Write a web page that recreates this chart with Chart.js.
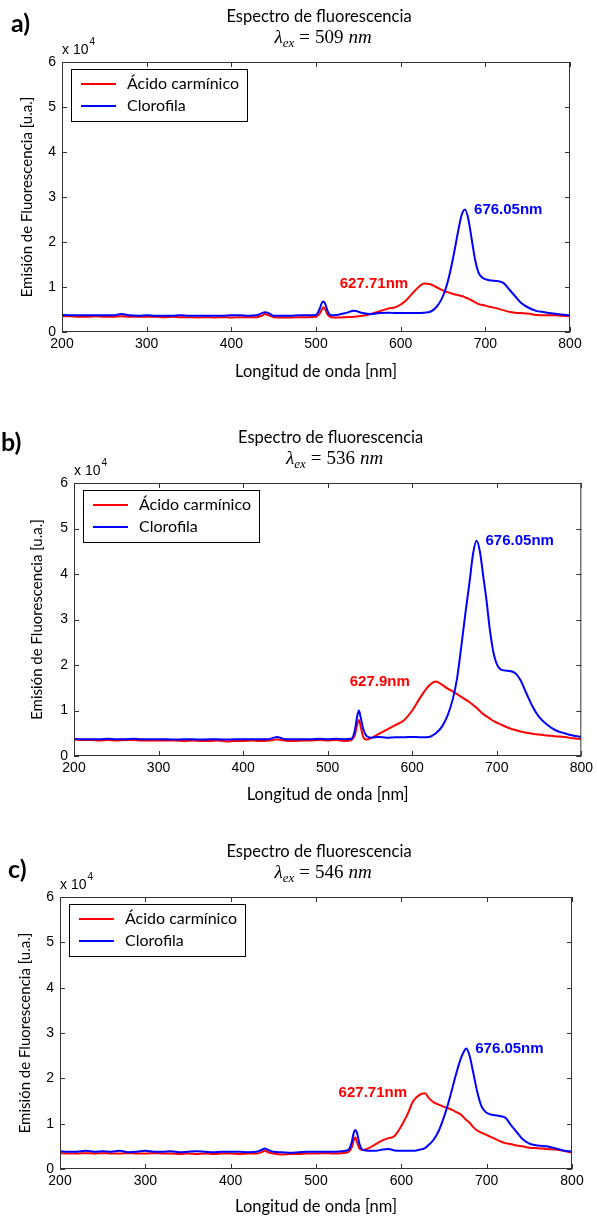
<!DOCTYPE html>
<html>
<head>
<meta charset="utf-8">
<script src="https://cdn.jsdelivr.net/npm/chart.js@4.4.1/dist/chart.umd.min.js"></script>
<style>
  html, body { margin: 0; padding: 0; background: #fff; }
  body { width: 597px; height: 1220px; position: relative; overflow: hidden; }
  .panel { position: absolute; left: 0; width: 597px; }
  .panel canvas { display: block; }
</style>
</head>
<body>
<div class="panel" style="top:0px;height:395px"><canvas id="chartA" width="597" height="395"></canvas></div>
<div class="panel" style="top:405px;height:410px"><canvas id="chartB" width="597" height="410"></canvas></div>
<div class="panel" style="top:830px;height:390px"><canvas id="chartC" width="597" height="390"></canvas></div>
<script>
// emission values are in units of 10^4 u.a.
const nombres = ['Ácido carmínico', 'Clorofila'];
const excitacion = [509, 536, 546];
const letras = ['a)', 'b)', 'c)'];
const xTicks = [200, 300, 400, 500, 600, 700, 800];
const yTicks = [0, 1, 2, 3, 4, 5, 6];
const picoCarmin = [627.71, 627.9, 627.71];
const picoClorofila = [676.05, 676.05, 676.05];

// a) excitation 509 nm
const waveA = [200,210,220,230,240,250,260,270,280,290,
  300,310,320,330,340,350,360,370,380,390,
  400,410,420,430,436,440,444,450,460,470,
  480,490,500,504,507,509,511,514,518,525,
  535,545,555,565,575,585,595,605,612,620,
  627.71,635,642,648,653,658,663,668,672,676.05,
  680,684,688,692,697,705,715,722,728,735,
  742,750,760,770,780,790,800];
const carminA = [.35,.35,.34,.34,.35,.34,.34,.35,.34,.34,
  .34,.34,.33,.34,.33,.33,.32,.33,.32,.33,
  .32,.33,.33,.33,.36,.40,.37,.33,.32,.32,
  .33,.33,.34,.40,.50,.55,.50,.38,.33,.32,
  .33,.34,.36,.40,.46,.52,.56,.68,.82,.98,
  1.08,1.06,1.00,.94,.90,.87,.84,.82,.80,.77,
  .74,.70,.66,.62,.60,.56,.52,.48,.45,.43,
  .42,.41,.38,.37,.37,.36,.35];
const clorofilaA = [.38,.37,.37,.37,.37,.37,.37,.40,.37,.36,
  .37,.36,.36,.36,.37,.36,.36,.36,.36,.36,
  .37,.37,.36,.37,.42,.44,.42,.36,.36,.36,
  .37,.37,.38,.50,.65,.68,.62,.45,.37,.38,
  .42,.47,.42,.40,.42,.43,.42,.42,.42,.42,
  .43,.45,.55,.72,.95,1.30,1.75,2.25,2.60,2.72,
  2.50,2.05,1.60,1.32,1.20,1.15,1.13,1.08,.95,.80,
  .65,.55,.47,.44,.41,.39,.37];

// b) excitation 536 nm
const waveB = [200,210,220,230,240,250,260,270,280,290,
  300,310,320,330,340,350,360,370,380,390,
  400,410,420,430,436,440,444,450,460,470,
  480,490,500,510,520,528,532,535,537,539,
  542,546,552,560,570,580,590,600,610,620,
  627.9,635,642,648,653,658,663,668,672,676.05,
  680,684,688,692,697,705,715,722,728,735,
  742,750,760,770,780,790,800];
const carminB = [.36,.35,.35,.34,.35,.34,.35,.35,.34,.34,
  .34,.34,.34,.33,.34,.33,.33,.34,.32,.33,
  .33,.34,.33,.34,.35,.37,.35,.34,.33,.34,
  .34,.35,.34,.35,.33,.35,.45,.70,.79,.65,
  .42,.36,.40,.48,.58,.68,.78,1.00,1.30,1.55,
  1.64,1.57,1.48,1.42,1.36,1.30,1.24,1.18,1.12,1.06,
  .99,.92,.87,.82,.76,.69,.61,.57,.54,.51,
  .49,.47,.45,.43,.42,.39,.37];
const clorofilaB = [.38,.37,.37,.37,.38,.37,.37,.38,.37,.37,
  .37,.37,.36,.37,.37,.36,.37,.37,.36,.37,
  .37,.37,.37,.37,.40,.42,.40,.37,.37,.37,
  .37,.38,.37,.38,.37,.38,.55,.88,1.00,.85,
  .60,.44,.40,.42,.40,.41,.41,.42,.41,.42,
  .50,.64,.90,1.25,1.70,2.40,3.15,3.85,4.45,4.73,
  4.50,3.95,3.40,2.75,2.20,1.90,1.87,1.82,1.67,1.38,
  1.10,.86,.68,.56,.50,.45,.42];

// c) excitation 546 nm
const waveC = [200,210,220,230,240,250,260,270,280,290,
  300,310,320,330,340,350,360,370,380,390,
  400,410,420,430,436,440,444,450,460,470,
  480,490,500,510,520,530,538,542,544,546,
  548,551,555,562,570,578,585,592,600,607,
  614,620,627.71,632,638,644,650,655,660,665,
  670,673,676.05,680,684,689,694,700,708,715,
  722,728,735,742,750,760,770,780,790,800];
const carminC = [.35,.34,.34,.35,.34,.35,.34,.34,.35,.34,
  .34,.35,.34,.34,.33,.34,.33,.34,.33,.34,
  .34,.33,.34,.34,.37,.40,.37,.34,.32,.33,
  .33,.34,.34,.35,.34,.35,.38,.48,.62,.70,
  .60,.45,.42,.46,.55,.63,.68,.73,.95,1.20,
  1.50,1.62,1.67,1.57,1.47,1.42,1.37,1.34,1.30,1.25,
  1.20,1.14,1.08,1.02,.93,.85,.80,.75,.68,.62,
  .57,.55,.52,.50,.47,.46,.44,.43,.40,.36];
const clorofilaC = [.39,.38,.38,.40,.38,.39,.38,.40,.37,.38,
  .40,.38,.38,.39,.37,.38,.39,.38,.37,.38,
  .38,.38,.37,.38,.42,.45,.42,.38,.37,.36,
  .37,.38,.38,.38,.38,.39,.42,.60,.78,.86,
  .80,.55,.42,.40,.40,.43,.44,.41,.40,.40,
  .40,.42,.46,.53,.65,.85,1.15,1.45,1.80,2.15,
  2.45,2.58,2.66,2.50,2.15,1.70,1.38,1.24,1.19,1.17,
  1.13,.98,.82,.66,.56,.52,.50,.46,.41,.38];

const ROJO = '#ff0000';
const AZUL = '#0000ff';
const SANS = '"Liberation Sans", Arial, sans-serif';
const HUMAN = 'Lato, "Open Sans", sans-serif';
const SERIF = '"Liberation Serif", "DejaVu Serif", serif';

Chart.defaults.font.family = SANS;
Chart.defaults.color = '#000';

const toPoints = (xs, ys) => xs.map((x, i) => ({ x: x, y: ys[i] }));
const peakValue = (xs, ys, x) => ys[xs.indexOf(x)];

// draws the subscripted lambda line, centred on cx
function drawLambda(ctx, cx, baseY, ex) {
  const parts = [
    { t: 'λ', f: 'italic 19px ' + SERIF, dy: 0, gap: 0 },
    { t: 'ex', f: 'italic 13px ' + SERIF, dy: 4, gap: 5 },
    { t: '=', f: '19px ' + SERIF, dy: 0, gap: 5 },
    { t: String(ex), f: '19px ' + SERIF, dy: 0, gap: 5 },
    { t: 'nm', f: 'italic 19px ' + SERIF, dy: 0, gap: 0 },
  ];
  let total = 0;
  parts.forEach(p => { ctx.font = p.f; p.w = ctx.measureText(p.t).width; total += p.w + p.gap; });
  let x = cx - total / 2;
  ctx.textAlign = 'left';
  ctx.textBaseline = 'alphabetic';
  parts.forEach(p => { ctx.font = p.f; ctx.fillText(p.t, x, baseY + p.dy); x += p.w + p.gap; });
}

const decor = {
  id: 'decor',
  afterDatasetsDraw(chart, args, o) {
    const ctx = chart.ctx;
    const { left, right, top, bottom } = chart.chartArea;
    const xs = chart.scales.x, ys = chart.scales.y;
    ctx.save();

    // axes box with inward ticks on all four sides
    ctx.strokeStyle = '#333';
    ctx.lineWidth = 1;
    ctx.strokeRect(left + 0.5, top + 0.5, right - left - 1, bottom - top - 1);
    ctx.beginPath();
    xTicks.forEach(v => {
      const px = Math.round(xs.getPixelForValue(v)) + 0.5;
      ctx.moveTo(px, bottom); ctx.lineTo(px, bottom - 5);
      ctx.moveTo(px, top); ctx.lineTo(px, top + 5);
    });
    yTicks.forEach(v => {
      const py = Math.round(ys.getPixelForValue(v)) + 0.5;
      ctx.moveTo(left, py); ctx.lineTo(left + 5, py);
      ctx.moveTo(right, py); ctx.lineTo(right - 5, py);
    });
    ctx.stroke();

    // legend box
    const lx = left + 9, ly = top + 7;
    ctx.fillStyle = '#fff';
    ctx.fillRect(lx, ly, 176, 52);
    ctx.strokeStyle = '#000';
    ctx.strokeRect(lx + 0.5, ly + 0.5, 176, 52);
    chart.data.datasets.forEach((ds, i) => {
      const ry = ly + 15 + i * 22;
      ctx.strokeStyle = ds.borderColor;
      ctx.lineWidth = 2;
      ctx.beginPath(); ctx.moveTo(lx + 10, ry); ctx.lineTo(lx + 45, ry); ctx.stroke();
      ctx.fillStyle = '#000';
      ctx.font = '16px ' + HUMAN;
      ctx.textAlign = 'left';
      ctx.textBaseline = 'middle';
      ctx.fillText(ds.label, lx + 56, ry);
    });

    // peak labels
    ctx.font = 'bold 15px ' + SANS;
    ctx.textBaseline = 'middle';
    o.picos.forEach(p => {
      const px = xs.getPixelForValue(p.x), py = ys.getPixelForValue(p.y);
      ctx.fillStyle = p.color;
      ctx.textAlign = p.side === 'right' ? 'left' : 'right';
      ctx.fillText(p.x + 'nm', px + p.dx, py + p.dy);
    });

    // titles
    const cx = (left + right) / 2 + 3;
    ctx.fillStyle = '#000';
    ctx.font = '16.5px ' + HUMAN;
    ctx.textAlign = 'center';
    ctx.textBaseline = 'middle';
    ctx.fillText('Espectro de fluorescencia', cx, top - 45);
    drawLambda(ctx, cx + 4, top - 19, o.ex);

    // exponent note above the y axis
    ctx.textAlign = 'left';
    ctx.textBaseline = 'middle';
    ctx.font = '14px ' + SANS;
    ctx.fillText('x 10', left, top - 12);
    const w = ctx.measureText('x 10').width;
    ctx.font = '10px ' + SANS;
    ctx.fillText('4', left + w + 1, top - 20);

    // panel letter
    ctx.font = 'bold 25px ' + HUMAN;
    ctx.textBaseline = 'alphabetic';
    ctx.fillText(o.letra, o.letraX, o.letraY);
    ctx.restore();
  }
};

function makeChart(id, k, wave, carmin, clorofila, box) {
  const H = document.getElementById(id).height;
  return new Chart(document.getElementById(id), {
    type: 'line',
    data: {
      datasets: [
        { label: nombres[0], data: toPoints(wave, carmin), borderColor: ROJO, borderWidth: 2,
          pointRadius: 0, cubicInterpolationMode: 'monotone', order: 1 },
        { label: nombres[1], data: toPoints(wave, clorofila), borderColor: AZUL, borderWidth: 2,
          pointRadius: 0, cubicInterpolationMode: 'monotone', order: 0 },
      ]
    },
    options: {
      responsive: false,
      animation: false,
      events: [],
      layout: { padding: { top: box.top, right: 597 - box.right, left: 0, bottom: 0 } },
      scales: {
        x: {
          type: 'linear', min: 200, max: 800,
          afterBuildTicks: s => { s.ticks = xTicks.map(v => ({ value: v })); },
          afterFit: s => { s.height = H - box.bottom; },
          grid: { display: false, drawTicks: false },
          border: { display: false },
          ticks: { font: { size: 14 }, color: '#000', padding: 4, maxRotation: 0 },
          title: { display: true, text: 'Longitud de onda [nm]', color: '#000',
                   font: { family: HUMAN, size: 16.5 }, padding: { top: 0, bottom: box.xTitle } }
        },
        y: {
          min: 0, max: 6,
          afterBuildTicks: s => { s.ticks = yTicks.map(v => ({ value: v })); },
          afterFit: s => { s.width = box.left; },
          grid: { display: false, drawTicks: false },
          border: { display: false },
          ticks: { font: { size: 14 }, color: '#000', padding: 6 },
          title: { display: true, text: 'Emisión de Fluorescencia [u.a.]', color: '#000',
                   font: { family: HUMAN, size: 15 }, padding: { top: box.yTitle, bottom: 0 } }
        }
      },
      plugins: {
        legend: { display: false },
        tooltip: { enabled: false },
        decor: {
          ex: excitacion[k],
          letra: letras[k], letraX: box.letraX, letraY: box.letraY,
          picos: [
            { x: picoClorofila[k], y: peakValue(wave, clorofila, picoClorofila[k]), color: AZUL,
              side: 'right', dx: 9, dy: 0 },
            { x: picoCarmin[k], y: peakValue(wave, carmin, picoCarmin[k]), color: ROJO,
              side: 'left', dx: box.redDx, dy: 0 },
          ]
        }
      }
    },
    plugins: [decor]
  });
}

makeChart('chartA', 0, waveA, carminA, clorofilaA,
  { top: 62, bottom: 332, left: 62, right: 570, xTitle: 13, yTitle: 18, letraX: 11, letraY: 32, redDx: -16 });
makeChart('chartB', 1, waveB, carminB, clorofilaB,
  { top: 78, bottom: 351, left: 74, right: 583, xTitle: 10, yTitle: 28, letraX: 1, letraY: 46, redDx: -26 });
makeChart('chartC', 2, waveC, carminC, clorofilaC,
  { top: 67, bottom: 339, left: 60, right: 572, xTitle: 3, yTitle: 16, letraX: 8, letraY: 48, redDx: -18 });
</script>
</body>
</html>
